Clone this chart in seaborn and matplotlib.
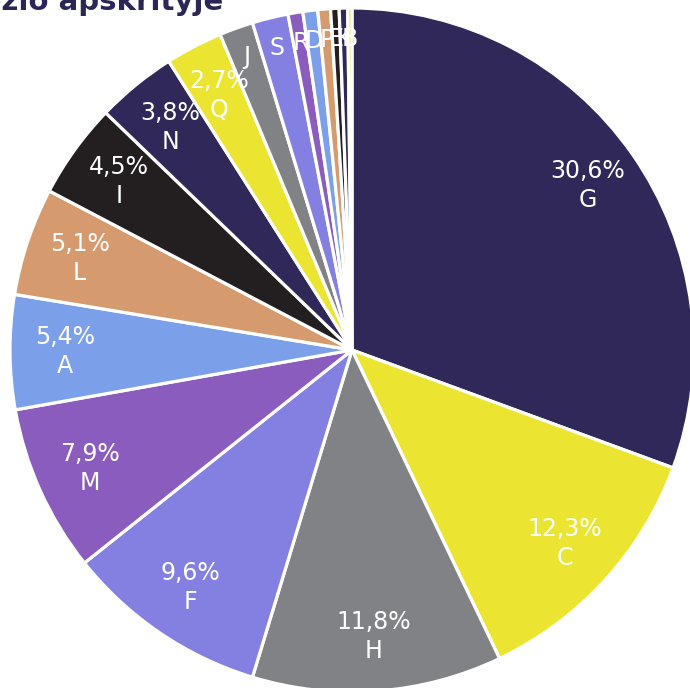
import matplotlib
matplotlib.use("Agg")
import matplotlib.pyplot as plt
import seaborn as sns
import numpy as np

sns.set_theme(style="white")
plt.rcParams['font.family'] = ['DejaVu Sans']

categories = ["G", "C", "H", "F", "M", "A", "L", "I", "N", "Q", "J", "S", "R", "D", "P", "E", "K", "B"]
values = [30.6, 12.3, 11.8, 9.6, 7.9, 5.4, 5.1, 4.5, 3.8, 2.7, 1.6, 1.7, 0.7, 0.7, 0.6, 0.4, 0.4, 0.2]
title = "Panevėžio apskrityje"

base_colors = ["#302858", "#ebe532", "#818285", "#8480e2", "#8a5cbd", "#7b9fe8", "#d69a6f", "#231f20"]
palette = sns.color_palette(base_colors)
colors = [palette[i % len(palette)] for i in range(len(values))]

W, H = 690, 688
fig = plt.figure(figsize=(W / 100, H / 100), dpi=100)
cx, cy, R = 352, 350, 342
ax = fig.add_axes([(cx - R) / W, (H - cy - R) / H, 2 * R / W, 2 * R / H])

wedges, _ = ax.pie(values, colors=colors, startangle=90, counterclock=False,
                   radius=1.0, wedgeprops=dict(edgecolor="white", linewidth=2.3))
ax.set_xlim(-1, 1)
ax.set_ylim(-1, 1)
ax.axis("off")

total = sum(values)
cum = 0.0
for cat, v in zip(categories, values):
    mid = (cum + v / 2) / total * 360.0
    cum += v
    ang = np.deg2rad(90 - mid)
    if v >= 2:
        r = 0.84
        txt = f"{v:.1f}%".replace(".", ",") + "\n" + cat
    else:
        r = 0.91
        txt = cat
    ax.text(r * np.cos(ang), r * np.sin(ang), txt, ha="center", va="center",
            color="white", fontsize=17, linespacing=1.25)

fig.text(223 / W, 1 - 10 / H, title, ha="right", va="baseline",
         fontsize=21, fontweight="bold", color="#2b2656")

fig.savefig("out.png", dpi=100)
